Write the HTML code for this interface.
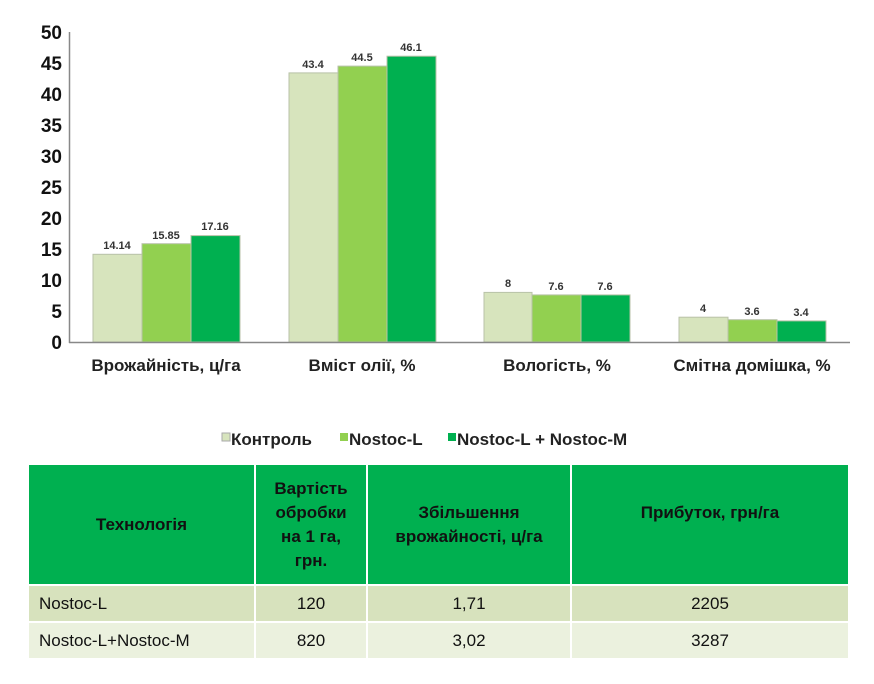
<!DOCTYPE html>
<html><head><meta charset="utf-8"><style>
body{margin:0;background:#fff;width:874px;height:684px;overflow:hidden;font-family:"Liberation Sans","DejaVu Sans",sans-serif;}
svg{position:absolute;left:0;top:0}
table{position:absolute;left:29px;top:465px;border-collapse:collapse;font-family:"Liberation Sans Narrow","Liberation Sans",sans-serif;font-size:17px;color:#111}
td{padding:0;text-align:center;border-right:2px solid #fff;border-bottom:2px solid #fff;box-sizing:border-box}
tr.h td{background:#00b050;font-weight:bold;height:120px;line-height:24px}
tr.r1 td{background:#d7e2bd;height:37px}
tr.r2 td{background:#ebf1de;height:37px}
td.l{text-align:left;padding-left:10px}
</style></head><body>
<svg width="874" height="460" font-family="Liberation Sans, DejaVu Sans, sans-serif">
<g font-size="19" font-weight="bold" fill="#111" text-anchor="end">
<text x="62" y="349">0</text><text x="62" y="318">5</text><text x="62" y="287">10</text><text x="62" y="256">15</text><text x="62" y="225">20</text><text x="62" y="194">25</text><text x="62" y="163">30</text><text x="62" y="132">35</text><text x="62" y="101">40</text><text x="62" y="70">45</text><text x="62" y="39">50</text>
</g>
<line x1="69.5" y1="32" x2="69.5" y2="343" stroke="#888" stroke-width="1.5"/>
<g stroke="#b8c2a8" stroke-width="1">
<rect x="93" y="254.3" width="49" height="87.7" fill="#d7e4bd"/>
<rect x="142" y="243.7" width="49" height="98.3" fill="#92d050"/>
<rect x="191" y="235.6" width="49" height="106.4" fill="#00b050"/>
<rect x="289" y="72.9" width="49" height="269.1" fill="#d7e4bd"/>
<rect x="338" y="66.1" width="49" height="275.9" fill="#92d050"/>
<rect x="387" y="56.2" width="49" height="285.8" fill="#00b050"/>
<rect x="484" y="292.4" width="48" height="49.6" fill="#d7e4bd"/>
<rect x="532" y="294.9" width="49" height="47.1" fill="#92d050"/>
<rect x="581" y="294.9" width="49" height="47.1" fill="#00b050"/>
<rect x="679" y="317.2" width="49" height="24.8" fill="#d7e4bd"/>
<rect x="728" y="319.7" width="49" height="22.3" fill="#92d050"/>
<rect x="777" y="320.9" width="49" height="21.1" fill="#00b050"/>
</g>
<line x1="69" y1="342.5" x2="850" y2="342.5" stroke="#888" stroke-width="1.5"/>
<g font-size="11" font-weight="bold" fill="#333" text-anchor="middle">
<text x="117" y="249">14.14</text><text x="166" y="239">15.85</text><text x="215" y="230">17.16</text>
<text x="313" y="68">43.4</text><text x="362" y="61">44.5</text><text x="411" y="51">46.1</text>
<text x="508" y="287">8</text><text x="556" y="290">7.6</text><text x="605" y="290">7.6</text>
<text x="703" y="312">4</text><text x="752" y="315">3.6</text><text x="801" y="316">3.4</text>
</g>
<g font-size="17" font-weight="bold" fill="#222" text-anchor="middle">
<text x="166" y="371">Врожайність, ц/га</text>
<text x="362" y="371">Вміст олії, %</text>
<text x="557" y="371">Вологість, %</text>
<text x="752" y="371">Смітна домішка, %</text>
</g>
<g font-size="17" font-weight="bold" fill="#222">
<rect x="222" y="433" width="8" height="8" fill="#d7e4bd" stroke="#aaa"/><text x="231" y="445">Контроль</text>
<rect x="340" y="433" width="8" height="8" fill="#92d050"/><text x="349" y="445">Nostoc-L</text>
<rect x="448" y="433" width="8" height="8" fill="#00b050"/><text x="457" y="445">Nostoc-L + Nostoc-M</text>
</g>
</svg>
<table>
<tr class="h"><td style="width:226px">Технологія</td><td style="width:112px">Вартість<br>обробки<br>на 1 га,<br>грн.</td><td style="width:204px">Збільшення<br>врожайності, ц/га</td><td style="width:278px;vertical-align:top;padding-top:36px">Прибуток, грн/га</td></tr>
<tr class="r1"><td class="l">Nostoc-L</td><td>120</td><td>1,71</td><td>2205</td></tr>
<tr class="r2"><td class="l">Nostoc-L+Nostoc-M</td><td>820</td><td>3,02</td><td>3287</td></tr>
</table>
</body></html>
